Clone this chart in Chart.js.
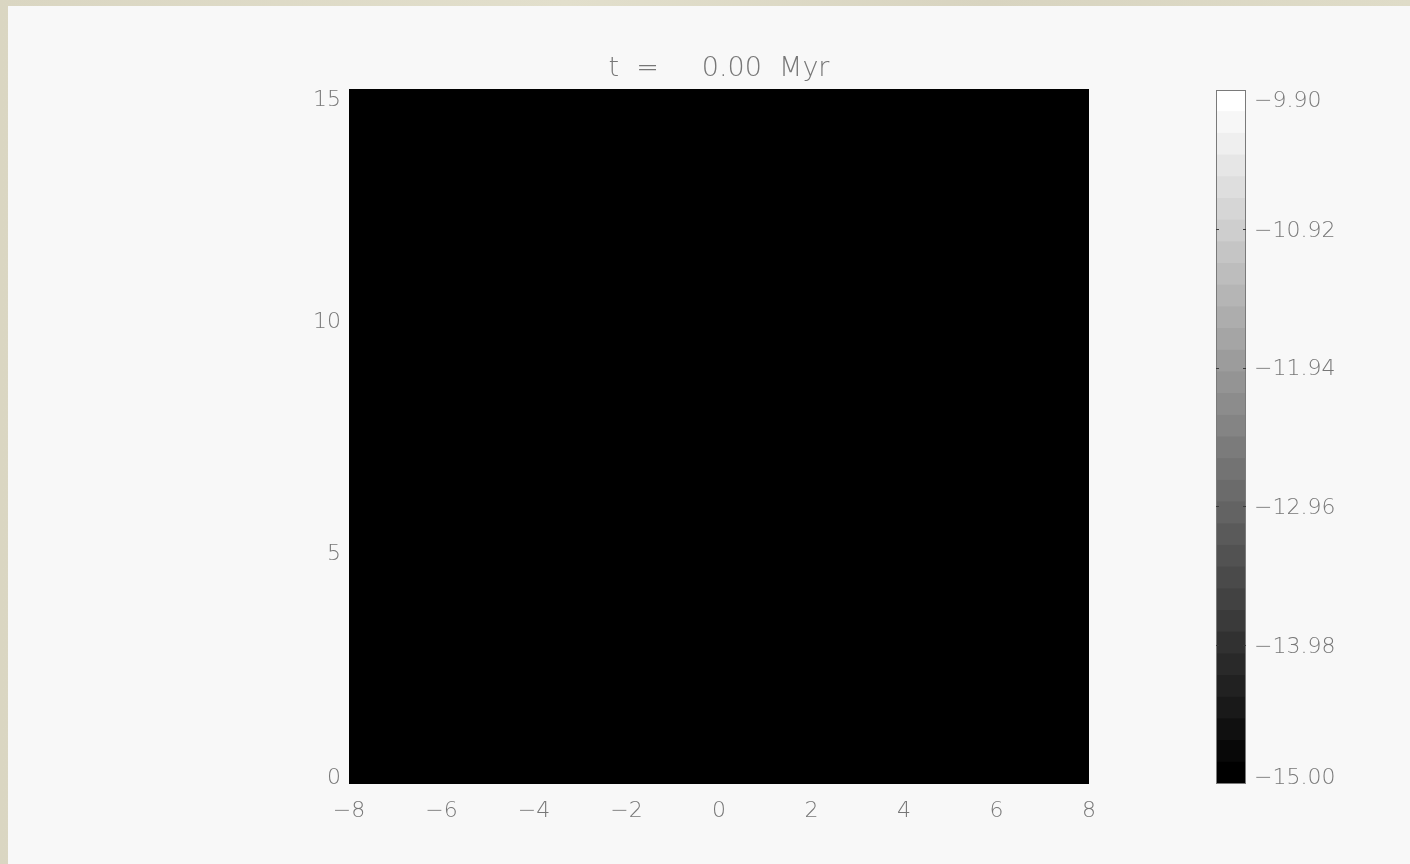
<!DOCTYPE html>
<html>
<head>
<meta charset="utf-8">
<title>t = 0.00 Myr</title>
<script src="https://cdn.jsdelivr.net/npm/chart.js@4.4.1/dist/chart.umd.min.js"></script>
<style>
  html, body { margin: 0; padding: 0; }
  body {
    width: 1410px; height: 864px; overflow: hidden; position: relative;
    background: linear-gradient(90deg, #dad6c2, #e2dfcc 40%, #d8d4c0 70%, #dfdcc8);
  }
  #panel { position: absolute; left: 8px; top: 6px; right: 0; bottom: 0; background: #f8f8f8; }
  #mapWrap { position: absolute; left: 0; top: 0; width: 1410px; height: 864px; }
  #barWrap { position: absolute; left: 1150px; top: 0; width: 260px; height: 864px; }
</style>
</head>
<body>
<div id="panel"></div>
<div id="mapWrap"><canvas id="mapChart"></canvas></div>
<div id="barWrap"><canvas id="cbarChart"></canvas></div>
<script>
// ---- data ----
const timeMyr = 0.00;

// cell edges of the map (kpc)
const xEdges = [-8, -7, -6, -5, -4, -3, -2, -1, 0, 1, 2, 3, 4, 5, 6, 7, 8];
const yEdges = [0, 1, 2, 3, 4, 5, 6, 7, 8, 9, 10, 11, 12, 13, 14, 15];

const xTicks = [-8, -6, -4, -2, 0, 2, 4, 6, 8];
const yTicks = [0, 5, 10, 15];

// log density per cell, first row is the bottom one (y = 0..1)
const logRho = [
  [-15.00, -15.00, -15.00, -15.00, -15.00, -15.00, -15.00, -15.00, -15.00, -15.00, -15.00, -15.00, -15.00, -15.00, -15.00, -15.00],
  [-15.00, -15.00, -15.00, -15.00, -15.00, -15.00, -15.00, -15.00, -15.00, -15.00, -15.00, -15.00, -15.00, -15.00, -15.00, -15.00],
  [-15.00, -15.00, -15.00, -15.00, -15.00, -15.00, -15.00, -15.00, -15.00, -15.00, -15.00, -15.00, -15.00, -15.00, -15.00, -15.00],
  [-15.00, -15.00, -15.00, -15.00, -15.00, -15.00, -15.00, -15.00, -15.00, -15.00, -15.00, -15.00, -15.00, -15.00, -15.00, -15.00],
  [-15.00, -15.00, -15.00, -15.00, -15.00, -15.00, -15.00, -15.00, -15.00, -15.00, -15.00, -15.00, -15.00, -15.00, -15.00, -15.00],
  [-15.00, -15.00, -15.00, -15.00, -15.00, -15.00, -15.00, -15.00, -15.00, -15.00, -15.00, -15.00, -15.00, -15.00, -15.00, -15.00],
  [-15.00, -15.00, -15.00, -15.00, -15.00, -15.00, -15.00, -15.00, -15.00, -15.00, -15.00, -15.00, -15.00, -15.00, -15.00, -15.00],
  [-15.00, -15.00, -15.00, -15.00, -15.00, -15.00, -15.00, -15.00, -15.00, -15.00, -15.00, -15.00, -15.00, -15.00, -15.00, -15.00],
  [-15.00, -15.00, -15.00, -15.00, -15.00, -15.00, -15.00, -15.00, -15.00, -15.00, -15.00, -15.00, -15.00, -15.00, -15.00, -15.00],
  [-15.00, -15.00, -15.00, -15.00, -15.00, -15.00, -15.00, -15.00, -15.00, -15.00, -15.00, -15.00, -15.00, -15.00, -15.00, -15.00],
  [-15.00, -15.00, -15.00, -15.00, -15.00, -15.00, -15.00, -15.00, -15.00, -15.00, -15.00, -15.00, -15.00, -15.00, -15.00, -15.00],
  [-15.00, -15.00, -15.00, -15.00, -15.00, -15.00, -15.00, -15.00, -15.00, -15.00, -15.00, -15.00, -15.00, -15.00, -15.00, -15.00],
  [-15.00, -15.00, -15.00, -15.00, -15.00, -15.00, -15.00, -15.00, -15.00, -15.00, -15.00, -15.00, -15.00, -15.00, -15.00, -15.00],
  [-15.00, -15.00, -15.00, -15.00, -15.00, -15.00, -15.00, -15.00, -15.00, -15.00, -15.00, -15.00, -15.00, -15.00, -15.00, -15.00],
  [-15.00, -15.00, -15.00, -15.00, -15.00, -15.00, -15.00, -15.00, -15.00, -15.00, -15.00, -15.00, -15.00, -15.00, -15.00, -15.00]
];

// colour bar: 32 grey levels between -15.00 and -9.90
const cbarEdges = [
  -15.000, -14.841, -14.681, -14.522, -14.363, -14.203, -14.044, -13.884,
  -13.725, -13.566, -13.406, -13.247, -13.088, -12.928, -12.769, -12.609,
  -12.450, -12.291, -12.131, -11.972, -11.813, -11.653, -11.494, -11.334,
  -11.175, -11.016, -10.856, -10.697, -10.538, -10.378, -10.219, -10.059,
  -9.900
];
const cbarTicks = [-15.00, -13.98, -12.96, -11.94, -10.92, -9.90];

// ---- styling ----
const fontFamily = '"DejaVu Sans", "Liberation Sans", sans-serif';
const labelGray = '#777777';
const labelWeight = 200; // picks DejaVu Sans ExtraLight when it is there

function minus(v) {
    return String(v).replace('-', '\u2212');
}

function grayFor(v) {
    const n = cbarEdges.length - 1;
    let k = 0;
    while (k < n - 1 && v >= cbarEdges[k + 1]) k++;
    const g = Math.round(k * 255 / (n - 1));
    return `rgb(${g}, ${g}, ${g})`;
}

// IDL style: end labels are pulled inside the axis
function edgeY(scale, v) {
    const y = scale.getPixelForValue(v);
    return Math.min(Math.max(y, scale.top + 9), scale.bottom - 8) + 2;
}

const yLabelPlugin = {
    id: 'yLabels',
    afterDraw(chart) {
        const ctx = chart.ctx;
        const y = chart.scales.y;
        ctx.save();
        ctx.font = `${labelWeight} 22px ${fontFamily}`;
        ctx.fillStyle = labelGray;
        ctx.textAlign = 'right';
        ctx.textBaseline = 'middle';
        yTicks.forEach(v => ctx.fillText(minus(v), chart.chartArea.left - 8, edgeY(y, v)));
        ctx.restore();
    }
};

const cbarPlugin = {
    id: 'cbarFrame',
    afterDraw(chart) {
        const ctx = chart.ctx;
        const { left, right, top, bottom } = chart.chartArea;
        const y = chart.scales.y;
        ctx.save();
        ctx.strokeStyle = '#7a7a7a';
        ctx.lineWidth = 1;
        ctx.strokeRect(left + 0.5, top + 0.5, right - left - 1, bottom - top - 1);

        ctx.strokeStyle = '#3a3a3a';
        cbarTicks.slice(1, -1).forEach(v => {
            const py = Math.round(y.getPixelForValue(v)) + 0.5;
            ctx.beginPath();
            ctx.moveTo(left, py); ctx.lineTo(left + 3, py);
            ctx.moveTo(right - 3, py); ctx.lineTo(right, py);
            ctx.stroke();
        });

        ctx.font = `${labelWeight} 22px ${fontFamily}`;
        ctx.fillStyle = labelGray;
        ctx.textAlign = 'left';
        ctx.textBaseline = 'middle';
        cbarTicks.forEach(v => ctx.fillText(minus(v.toFixed(2)), right + 8, edgeY(y, v)));
        ctx.restore();
    }
};

// ---- map ----
const mapDatasets = logRho.map((row, r) => ({
    data: row.map((v, c) => ({ x: (xEdges[c] + xEdges[c + 1]) / 2, y: [yEdges[r], yEdges[r + 1]] })),
    backgroundColor: row.map(grayFor),
    borderWidth: 0,
    inflateAmount: 1,
    grouped: false,
    barPercentage: 1,
    categoryPercentage: 1
}));

new Chart(document.getElementById('mapChart'), {
    type: 'bar',
    data: { datasets: mapDatasets },
    options: {
        responsive: true,
        maintainAspectRatio: false,
        animation: false,
        events: [],
        layout: { padding: { left: 349, right: 321, top: 0, bottom: 30 } },
        plugins: {
            legend: { display: false },
            tooltip: { enabled: false },
            title: {
                display: true,
                text: 't  =     ' + timeMyr.toFixed(2) + '  Myr',
                color: labelGray,
                font: { family: fontFamily, size: 27, weight: labelWeight, lineHeight: 1.2 },
                padding: { top: 53, bottom: 3.6 }
            }
        },
        scales: {
            x: {
                type: 'linear',
                min: -8,
                max: 8,
                offset: false,
                grid: { display: false },
                border: { display: false },
                afterBuildTicks: s => { s.ticks = xTicks.map(v => ({ value: v })); },
                afterFit: s => { s.height = 50; },
                ticks: {
                    color: labelGray,
                    font: { family: fontFamily, size: 22, weight: labelWeight },
                    padding: 6,
                    maxRotation: 0,
                    autoSkip: false,
                    callback: v => minus(v)
                }
            },
            y: { type: 'linear', min: 0, max: 15, display: false }
        }
    },
    plugins: [yLabelPlugin]
});

// ---- colour bar ----
const cbarDatasets = cbarEdges.slice(0, -1).map((lo, k) => ({
    data: [[lo, cbarEdges[k + 1]]],
    backgroundColor: grayFor(lo),
    borderWidth: 0,
    inflateAmount: 0.5,
    grouped: false,
    barPercentage: 1,
    categoryPercentage: 1
}));

new Chart(document.getElementById('cbarChart'), {
    type: 'bar',
    data: { labels: [''], datasets: cbarDatasets },
    options: {
        responsive: true,
        maintainAspectRatio: false,
        animation: false,
        events: [],
        layout: { padding: { left: 66, right: 164, top: 90, bottom: 80 } },
        plugins: { legend: { display: false }, tooltip: { enabled: false } },
        scales: {
            x: { display: false },
            y: { display: false, min: -15, max: -9.9 }
        }
    },
    plugins: [cbarPlugin]
});
</script>
</body>
</html>
